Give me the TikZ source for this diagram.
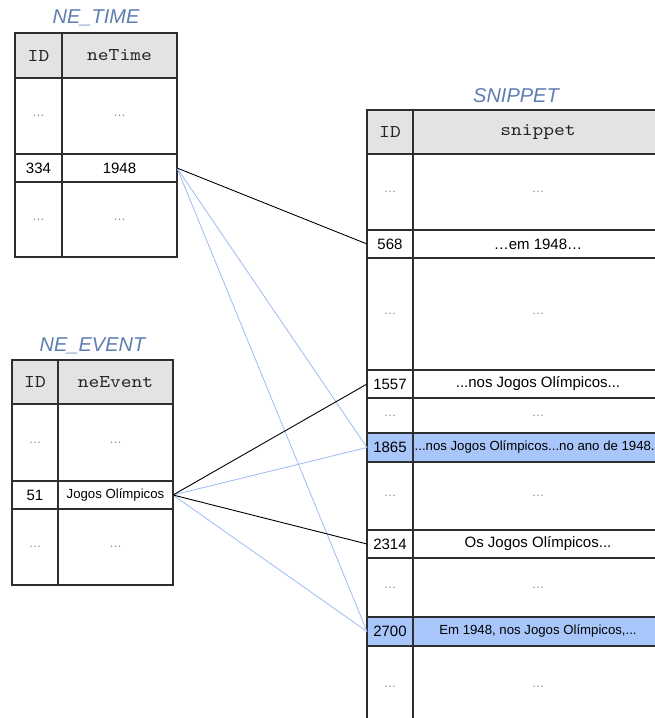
\documentclass[tikz,border=0pt]{standalone}
\usepackage{fontspec}
\setmainfont{Liberation Sans}
\newfontfamily\hdrfont[FakeStretch=1.14]{lmmono10-regular.otf}
\definecolor{lineC}{HTML}{2E2E2E}
\definecolor{hdrgray}{HTML}{E3E3E3}
\definecolor{hiblue}{HTML}{A8C6FA}
\definecolor{titleblue}{HTML}{5E7EB0}
\definecolor{dotgray}{HTML}{8A8A8A}
\definecolor{linkblue}{HTML}{9DBBF5}
\newcommand\mycell[7]{\node[cell,#6,minimum width=#4pt,minimum height=#5pt] (#1) at (#2,#3) {#7};}
\begin{document}
\begin{tikzpicture}[x=1pt,y=-1pt,
  cell/.style={draw=lineC,line width=1.1pt,anchor=north west,inner sep=0pt,outer sep=0pt,align=center},
  val/.style={font=\fontsize{15}{18}\selectfont},
  small/.style={font=\fontsize{13.2}{15}\selectfont},
  hdr/.style={fill=hdrgray,text=black!85,font=\hdrfont\fontsize{18}{20}\selectfont},
  dots/.style={text=dotgray,font=\fontsize{12.5}{14}\selectfont},
  hi/.style={fill=hiblue},
  ttl/.style={text=titleblue,font=\itshape\fontsize{20}{24}\selectfont},
  blk/.style={draw=black,line width=0.9pt},
  blu/.style={draw=linkblue,line width=0.8pt}]
\clip (0,0) rectangle (655,718);
\fill[white] (0,0) rectangle (655,718);
% NE_TIME
\node[ttl] (ttime) at (96,18) {NE\_TIME};
\mycell{th1}{15}{33}{47}{45}{hdr}{ID}
\mycell{th2}{62}{33}{115}{45}{hdr}{neTime}
\mycell{ta1}{15}{78}{47}{76}{dots}{…}
\mycell{ta2}{62}{78}{115}{76}{dots}{…}
\mycell{tb1}{15}{154}{47}{28}{val}{334}
\mycell{tb2}{62}{154}{115}{28}{val}{1948}
\mycell{tc1}{15}{182}{47}{75}{dots}{…}
\mycell{tc2}{62}{182}{115}{75}{dots}{…}
% NE_EVENT
\node[ttl] (tevent) at (92.5,346) {NE\_EVENT};
\mycell{eh1}{12}{360}{46}{44}{hdr}{ID}
\mycell{eh2}{58}{360}{115}{44}{hdr}{neEvent}
\mycell{ea1}{12}{404}{46}{77}{dots}{…}
\mycell{ea2}{58}{404}{115}{77}{dots}{…}
\mycell{eb1}{12}{481}{46}{28}{val}{51}
\mycell{eb2}{58}{481}{115}{28}{small}{Jogos Olímpicos}
\mycell{ec1}{12}{509}{46}{76}{dots}{…}
\mycell{ec2}{58}{509}{115}{76}{dots}{…}
% SNIPPET
\node[ttl] (tsnip) at (516,96) {SNIPPET};
\mycell{sh1}{367}{110}{46}{44}{hdr}{ID}
\mycell{sh2}{413}{110}{250}{44}{hdr}{snippet}
\mycell{sa1}{367}{154}{46}{76}{dots}{…}
\mycell{sa2}{413}{154}{250}{76}{dots}{…}
\mycell{sb1}{367}{230}{46}{28}{val}{568}
\mycell{sb2}{413}{230}{250}{28}{val}{…em 1948…}
\mycell{sc1}{367}{258}{46}{112}{dots}{…}
\mycell{sc2}{413}{258}{250}{112}{dots}{…}
\mycell{sd1}{367}{370}{46}{28}{val}{1557}
\mycell{sd2}{413}{370}{250}{28}{val}{...nos Jogos Olímpicos...}
\mycell{se1}{367}{398}{46}{35}{dots}{…}
\mycell{se2}{413}{398}{250}{35}{dots}{…}
\mycell{sf1}{367}{433}{46}{29}{val,hi}{1865}
\node[cell,hi,minimum width=250pt,minimum height=29pt] (sf2) at (413,433) {};
\node[small,anchor=west,inner sep=0pt] (sf2t) at ([xshift=1.5pt]sf2.west) {...nos Jogos Olímpicos...no ano de 1948.};
\mycell{sg1}{367}{462}{46}{68}{dots}{…}
\mycell{sg2}{413}{462}{250}{68}{dots}{…}
\mycell{sh1b}{367}{530}{46}{28}{val}{2314}
\mycell{sh2b}{413}{530}{250}{28}{val}{Os Jogos Olímpicos...}
\mycell{si1}{367}{558}{46}{59}{dots}{…}
\mycell{si2}{413}{558}{250}{59}{dots}{…}
\mycell{sj1}{367}{617}{46}{29}{val,hi}{2700}
\mycell{sj2}{413}{617}{250}{29}{small,hi}{Em 1948, nos Jogos Olímpicos,...}
\mycell{sk1}{367}{646}{46}{82}{dots}{…}
\mycell{sk2}{413}{646}{250}{82}{dots}{…}
% connectors
\draw[blu] (tb2.east) -- (sf1.west);
\draw[blu] (tb2.east) -- (sj1.west);
\draw[blu] (eb2.east) -- (sf1.west);
\draw[blu] (eb2.east) -- (sj1.west);
\draw[blk] (tb2.east) -- (sb1.west);
\draw[blk] (eb2.east) -- (sd1.west);
\draw[blk] (eb2.east) -- (sh1b.west);
\end{tikzpicture}
\end{document}
